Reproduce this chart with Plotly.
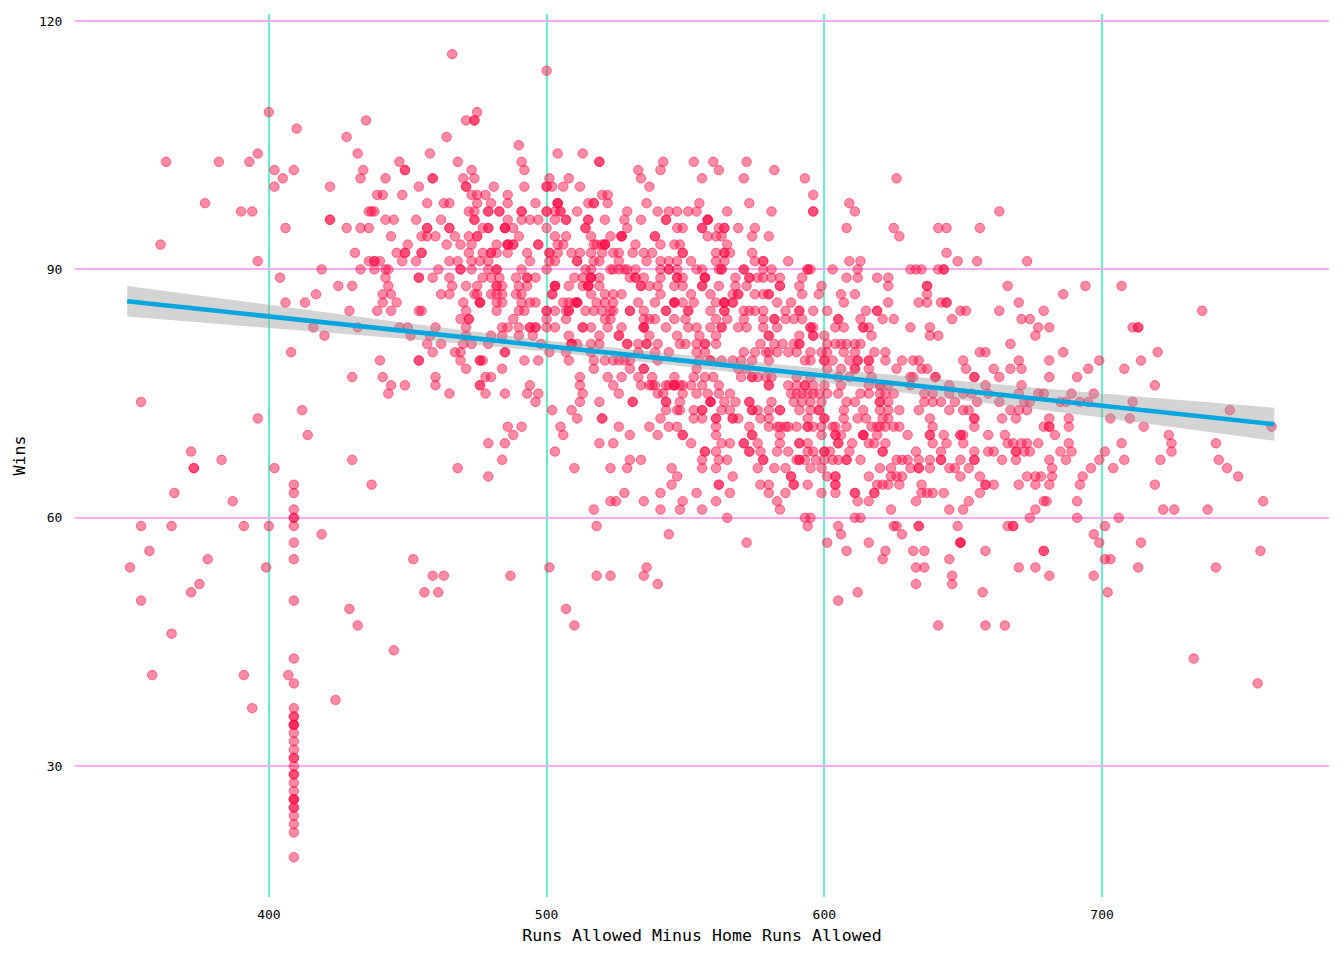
import plotly.graph_objects as go

runs_116 = [466]
runs_114 = [500]
runs_109 = [400, 475]
runs_108 = [435, 471, 474, 474]
runs_107 = [410]
runs_106 = [428, 464]
runs_105 = [490]
runs_104 = [396, 432, 458, 504, 513]
runs_103 = [363, 382, 393, 447, 468, 491, 519, 519, 542, 553, 560, 572]
runs_102 = [402, 409, 434, 449, 449, 473, 492, 533, 541, 562, 582]
runs_101 = [405, 433, 442, 459, 459, 470, 474, 501, 508, 534, 556, 571, 593, 626]
runs_100 = [402, 422, 454, 471, 471, 481, 492, 500, 500, 502, 506, 512, 537]
runs_99 = [439, 441, 448, 473, 475, 478, 486, 520, 522, 596]
runs_98 = [377, 457, 463, 465, 475, 480, 486, 496, 504, 504, 504, 515, 517, 517, 522, 536, 555, 573, 609]
runs_97 = [390, 394, 436, 437, 438, 472, 474, 479, 479, 483, 483, 491, 491, 500, 500, 503, 505, 505, 511, 529, 540, 544, 547, 551, 554, 565, 581, 596, 596, 611, 663]
runs_96 = [422, 422, 442, 445, 453, 462, 474, 474, 486, 491, 494, 497, 503, 507, 507, 515, 515, 521, 528, 534, 543, 543, 558, 558, 558]
runs_95 = [406, 428, 433, 436, 457, 457, 465, 465, 477, 479, 479, 485, 485, 485, 488, 500, 514, 514, 529, 547, 549, 556, 556, 562, 564, 564, 569, 575, 608, 625, 641, 644, 656]
runs_94 = [444, 455, 457, 460, 467, 472, 475, 475, 490, 503, 507, 516, 523, 527, 527, 527, 539, 539, 558, 561, 563, 574, 580, 627]
runs_93 = [361, 450, 464, 469, 473, 482, 486, 486, 486, 488, 488, 497, 497, 504, 506, 517, 518, 520, 521, 521, 521, 532, 541, 546, 548, 565]
runs_92 = [431, 446, 449, 449, 455, 455, 472, 477, 480, 480, 482, 486, 493, 501, 501, 504, 509, 512, 516, 520, 524, 526, 531, 535, 538, 549, 549, 561, 564, 564, 566, 574, 644]
runs_91 = [396, 436, 438, 438, 440, 448, 453, 465, 468, 473, 476, 479, 494, 501, 503, 511, 511, 517, 519, 526, 536, 541, 544, 547, 552, 561, 564, 575, 578, 578, 587, 609, 613, 648, 655, 673]
runs_90 = [419, 433, 438, 442, 443, 461, 469, 469, 473, 479, 482, 482, 491, 500, 514, 516, 523, 524, 526, 528, 529, 532, 541, 544, 544, 547, 554, 556, 562, 563, 563, 571, 571, 578, 581, 594, 594, 595, 603, 612, 631, 633, 635, 641, 643, 643]
runs_89 = [404, 442, 454, 454, 459, 465, 477, 480, 483, 489, 493, 493, 496, 510, 513, 516, 516, 516, 519, 530, 532, 532, 535, 541, 547, 547, 549, 557, 557, 557, 568, 573, 573, 576, 578, 581, 584, 592, 608, 612, 619, 623]
runs_88 = [425, 430, 443, 466, 471, 475, 482, 482, 484, 490, 493, 503, 503, 503, 508, 513, 515, 515, 515, 519, 534, 534, 537, 540, 546, 549, 556, 556, 562, 568, 572, 584, 584, 591, 599, 623, 637, 637, 666, 694, 707]
runs_87 = [417, 441, 444, 462, 465, 474, 475, 480, 482, 484, 489, 491, 502, 502, 516, 521, 524, 527, 541, 552, 559, 567, 569, 569, 575, 578, 580, 580, 592, 598, 606, 611, 637, 686]
runs_86 = [406, 413, 441, 446, 470, 476, 476, 476, 482, 484, 491, 494, 496, 506, 508, 510, 511, 511, 511, 518, 521, 524, 533, 539, 546, 546, 546, 549, 553, 561, 564, 564, 564, 567, 567, 583, 588, 607, 623, 634, 637, 642, 644, 644, 670]
runs_85 = [429, 439, 444, 454, 455, 471, 482, 490, 492, 500, 500, 503, 507, 508, 508, 514, 517, 520, 523, 524, 530, 530, 535, 543, 543, 551, 551, 559, 564, 564, 571, 573, 575, 578, 586, 591, 591, 596, 601, 615, 619, 619, 649, 651, 663, 679, 736]
runs_84 = [469, 472, 472, 488, 500, 507, 521, 523, 535, 537, 539, 546, 550, 561, 565, 571, 578, 582, 582, 586, 589, 592, 605, 605, 613, 621, 625, 646, 671, 674]
runs_83 = [416, 432, 447, 450, 460, 471, 484, 486, 490, 494, 494, 496, 496, 500, 503, 513, 513, 516, 522, 527, 535, 535, 535, 543, 551, 554, 559, 563, 563, 569, 572, 578, 583, 595, 595, 596, 604, 607, 614, 614, 616, 631, 638, 677, 681, 711, 713, 713]
runs_82 = [420, 451, 458, 471, 480, 484, 490, 495, 508, 519, 526, 526, 537, 547, 555, 561, 580, 580, 591, 596, 596, 600, 617, 638, 641, 676]
runs_81 = [457, 462, 470, 473, 479, 498, 509, 509, 509, 511, 516, 519, 529, 529, 533, 536, 536, 540, 548, 550, 554, 557, 557, 561, 577, 582, 585, 589, 591, 591, 601, 604, 606, 608, 611, 613, 667]
runs_80 = [408, 459, 467, 469, 485, 485, 501, 507, 516, 533, 539, 544, 554, 557, 571, 575, 579, 580, 583, 587, 590, 595, 599, 601, 607, 611, 618, 622, 656, 658, 686, 720]
runs_79 = [440, 454, 454, 469, 476, 476, 477, 492, 497, 508, 517, 521, 524, 526, 528, 530, 540, 555, 559, 559, 563, 567, 570, 574, 580, 593, 595, 600, 600, 603, 609, 612, 612, 616, 616, 622, 628, 632, 634, 650, 670, 681, 699, 714]
runs_78 = [471, 484, 517, 530, 535, 535, 554, 569, 572, 601, 606, 611, 611, 616, 626, 635, 637, 651, 661, 667, 671, 695, 708]
runs_77 = [430, 441, 460, 478, 480, 512, 522, 527, 533, 538, 546, 553, 557, 560, 570, 574, 574, 576, 579, 581, 590, 595, 605, 609, 617, 631, 632, 640, 640, 654, 654, 663, 681, 691]
runs_76 = [444, 449, 460, 476, 476, 494, 512, 524, 534, 537, 538, 539, 543, 544, 546, 546, 546, 548, 549, 552, 556, 562, 580, 580, 587, 590, 593, 593, 596, 600, 606, 616, 620, 620, 623, 631, 645, 658, 671, 719]
runs_75 = [443, 465, 478, 485, 493, 497, 513, 526, 540, 542, 549, 554, 558, 562, 566, 588, 590, 592, 594, 596, 598, 601, 605, 613, 616, 620, 622, 625, 636, 639, 645, 650, 653, 659, 670, 677, 679, 689, 697]
runs_74 = [354, 496, 512, 519, 531, 531, 543, 543, 548, 559, 559, 559, 564, 568, 573, 573, 581, 589, 592, 595, 599, 608, 611, 620, 620, 623, 636, 639, 642, 647, 655, 663, 672, 674, 685, 687, 692, 695, 711]
runs_73 = [412, 502, 509, 543, 547, 548, 553, 556, 556, 563, 566, 574, 574, 576, 580, 584, 584, 591, 595, 598, 598, 607, 614, 620, 623, 627, 634, 645, 650, 652, 667, 670, 673, 746]
runs_72 = [396, 511, 520, 520, 541, 553, 556, 561, 561, 567, 567, 569, 577, 580, 594, 600, 600, 607, 612, 615, 621, 623, 638, 654, 654, 664, 669, 681, 688, 703, 710]
runs_71 = [486, 491, 505, 526, 537, 544, 547, 561, 573, 580, 583, 584, 586, 587, 590, 594, 594, 596, 599, 603, 604, 608, 617, 619, 620, 622, 625, 627, 639, 654, 679, 681, 681, 688, 715, 761]
runs_70 = [414, 488, 506, 530, 540, 549, 549, 561, 574, 574, 584, 599, 604, 604, 606, 614, 614, 614, 619, 630, 638, 638, 643, 649, 649, 650, 659, 665, 683, 724]
runs_69 = [479, 485, 519, 524, 552, 563, 566, 571, 571, 576, 584, 591, 591, 594, 605, 605, 610, 616, 618, 622, 639, 644, 650, 666, 668, 671, 673, 677, 688, 707, 725, 741]
runs_68 = [372, 503, 557, 557, 561, 573, 573, 577, 583, 587, 594, 596, 600, 600, 602, 609, 621, 621, 633, 642, 654, 659, 661, 669, 669, 672, 674, 685, 689, 701, 725]
runs_67 = [383, 430, 484, 530, 534, 556, 562, 565, 578, 578, 590, 591, 591, 593, 597, 600, 603, 605, 608, 608, 613, 626, 628, 630, 634, 638, 642, 642, 649, 654, 654, 664, 669, 681, 687, 699, 708, 721, 742]
runs_66 = [373, 373, 402, 468, 510, 523, 529, 545, 556, 561, 576, 582, 586, 595, 599, 620, 624, 631, 634, 634, 638, 645, 647, 652, 682, 696, 704, 745]
runs_65 = [479, 547, 567, 588, 588, 601, 604, 604, 616, 624, 626, 628, 649, 656, 673, 676, 678, 682, 693, 749]
runs_64 = [409, 437, 545, 562, 562, 577, 580, 589, 589, 594, 604, 604, 619, 621, 623, 627, 635, 658, 658, 661, 670, 676, 681, 692, 719]
runs_63 = [366, 409, 528, 541, 554, 566, 580, 586, 599, 604, 611, 611, 618, 618, 635, 637, 639, 643, 656]
runs_62 = [387, 523, 525, 535, 549, 561, 583, 612, 616, 633, 652, 679, 680, 691, 758]
runs_61 = [409, 517, 541, 548, 556, 584, 624, 645, 650, 676, 722, 726, 738]
runs_60 = [409, 409, 565, 593, 595, 611, 613, 674, 691, 706]
runs_59 = [354, 365, 391, 400, 409, 518, 594, 605, 625, 626, 634, 634, 648, 666, 668, 668, 701]
runs_58 = [419, 544, 606, 628, 697]
runs_57 = [409, 572, 601, 616, 649, 649, 649, 699, 714]
runs_56 = [357, 608, 622, 632, 636, 658, 679, 679, 757]
runs_55 = [378, 409, 452, 621, 645, 701, 703]
runs_54 = [350, 399, 501, 536, 633, 636, 670, 676, 713, 741]
runs_53 = [459, 463, 487, 518, 523, 535, 646, 681, 697]
runs_52 = [375, 540, 633, 646]
runs_51 = [372, 456, 461, 612, 657, 702]
runs_50 = [354, 409, 605]
runs_49 = [429, 507]
runs_47 = [432, 510, 641, 658, 665]
runs_46 = [365]
runs_44 = [445]
runs_43 = [409, 733]
runs_41 = [358, 391, 407]
runs_40 = [409, 756]
runs_38 = [424]
runs_37 = [394, 409]
runs_36 = [409, 409]
runs_35 = [409, 409, 409]
runs_34 = [409]
runs_33 = [409]
runs_32 = [409]
runs_31 = [409, 409]
runs_30 = [409]
runs_29 = [409, 409]
runs_28 = [409]
runs_27 = [409]
runs_26 = [409, 409, 409]
runs_25 = [409, 409]
runs_24 = [409]
runs_23 = [409]
runs_22 = [409]
runs_19 = [409]

fit_runs = [349, 400, 450, 500, 550, 600, 650, 700, 762]
fit_wins = [86.15, 84.35, 82.55, 80.75, 78.95, 77.15, 75.35, 73.55, 71.3]
fit_upper = [88.0, 85.75, 83.5, 81.4, 79.65, 78.0, 76.5, 75.0, 73.3]
fit_lower = [84.3, 82.95, 81.6, 80.1, 78.25, 76.3, 74.2, 72.1, 69.3]

x_ticks = [400, 500, 600, 700]
y_ticks = [30, 60, 90, 120]

xs, ys = [], []
for name, vals in list(globals().items()):
    if name.startswith("runs_"):
        w = int(name.split("_")[1])
        xs.extend(vals)
        ys.extend([w] * len(vals))

FONT = "DejaVu Sans Mono"
fig = go.Figure()
fig.add_trace(go.Scatter(
    x=xs, y=ys, mode="markers", showlegend=False,
    marker=dict(size=9.5, color="rgba(255,10,70,0.48)",
                line=dict(width=1, color="rgba(255,10,70,0.5)")),
))
fig.add_trace(go.Scatter(
    x=fit_runs + fit_runs[::-1], y=fit_upper + fit_lower[::-1],
    mode="lines", fill="toself", fillcolor="rgba(153,153,153,0.42)",
    line=dict(width=0), showlegend=False,
))
fig.add_trace(go.Scatter(
    x=fit_runs, y=fit_wins, mode="lines", showlegend=False,
    line=dict(color="#00A6E0", width=4.6),
))
fig.update_layout(
    width=1328, height=944, plot_bgcolor="white", paper_bgcolor="white",
    margin=dict(l=67, r=7, t=6, b=55),
    font=dict(family=FONT, color="black"),
)
fig.update_xaxes(
    range=[330.2, 781.7], tickvals=x_ticks, showgrid=True, gridcolor="#5FF5C8",
    gridwidth=2, zeroline=False, showline=False,
    ticks="outside", ticklen=5, tickcolor="rgba(0,0,0,0)",
    tickfont=dict(size=13, family=FONT),
    title=dict(text="Runs Allowed Minus Home Runs Allowed", font=dict(size=16.6, family=FONT), standoff=8),
)
fig.update_yaxes(
    range=[14.2, 120.85], tickvals=y_ticks, showgrid=True, gridcolor="#F5AEF5",
    gridwidth=2, zeroline=False, showline=False,
    ticks="outside", ticklen=9, tickcolor="rgba(0,0,0,0)",
    tickfont=dict(size=13, family=FONT),
    title=dict(text="Wins", font=dict(size=16.6, family=FONT), standoff=9),
)
fig.write_html("out.html")
